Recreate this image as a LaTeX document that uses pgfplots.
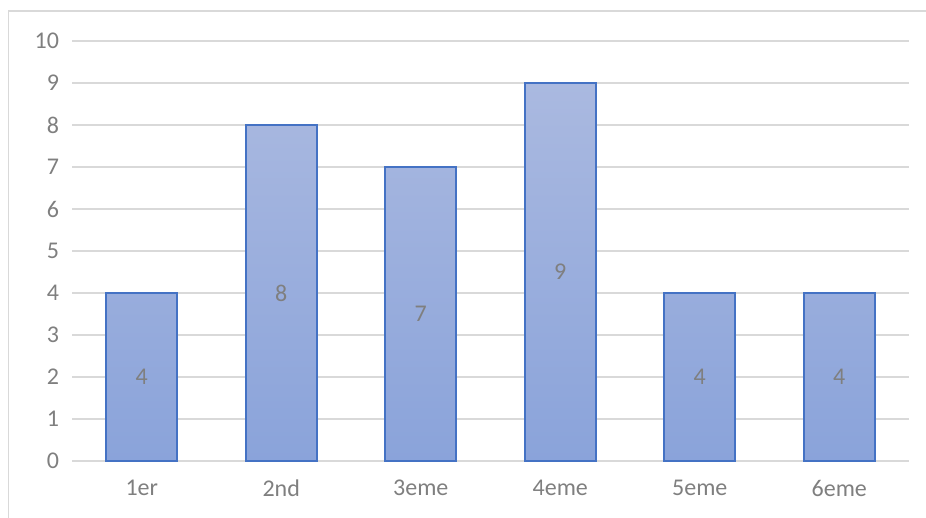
\documentclass[border=0pt]{standalone}
\usepackage{pgfplots}
\pgfplotsset{compat=1.18}
\usepackage{fontspec}
\setmainfont{Carlito}
\definecolor{gridc}{HTML}{D9D9D9}
\definecolor{txt}{HTML}{7F7F7F}
\definecolor{barline}{HTML}{4472C4}
\definecolor{bartop}{HTML}{AAB9E0}
\definecolor{barbot}{HTML}{8AA3DA}
\begin{document}
\begin{tikzpicture}
\path[use as bounding box] (0,0) rectangle (463pt,259pt);
\draw[gridc, line width=0.7pt] (4.25pt,-5pt) -- (4.25pt,253.5pt) -- (470pt,253.5pt);
\begin{axis}[
 at={(36pt,28.5pt)}, anchor=south west,
 scale only axis, width=418.5pt, height=210pt,
 xmin=-0.5, xmax=5.5, ymin=0, ymax=10,
 axis line style={draw=none},
 ymajorgrids, grid style={gridc, line width=0.75pt},
 ytick={0,...,10}, xtick={0,...,5},
 xticklabels={1er,2nd,3eme,4eme,5eme,6eme},
 major tick length=0pt,
 tick label style={font=\fontsize{12}{14}\selectfont, text=txt},
 /pgf/number format/assume math mode=true,
 yticklabel style={xshift=-3pt},
 xticklabel style={yshift=-6pt},
 clip=false,
]
\addplot[ybar, bar width=0.51, draw=barline, line width=0.9pt, top color=bartop, bottom color=barbot]
 coordinates {(0,4) (1,8) (2,7) (3,9) (4,4) (5,4)};
\addplot[draw=none, mark=none, nodes near coords, point meta=explicit symbolic,
 every node near coord/.style={anchor=center, font=\fontsize{12}{14}\selectfont, text=txt}]
 coordinates {(0,2)[4] (1,4)[8] (2,3.5)[7] (3,4.5)[9] (4,2)[4] (5,2)[4]};
\end{axis}
\end{tikzpicture}
\end{document}
